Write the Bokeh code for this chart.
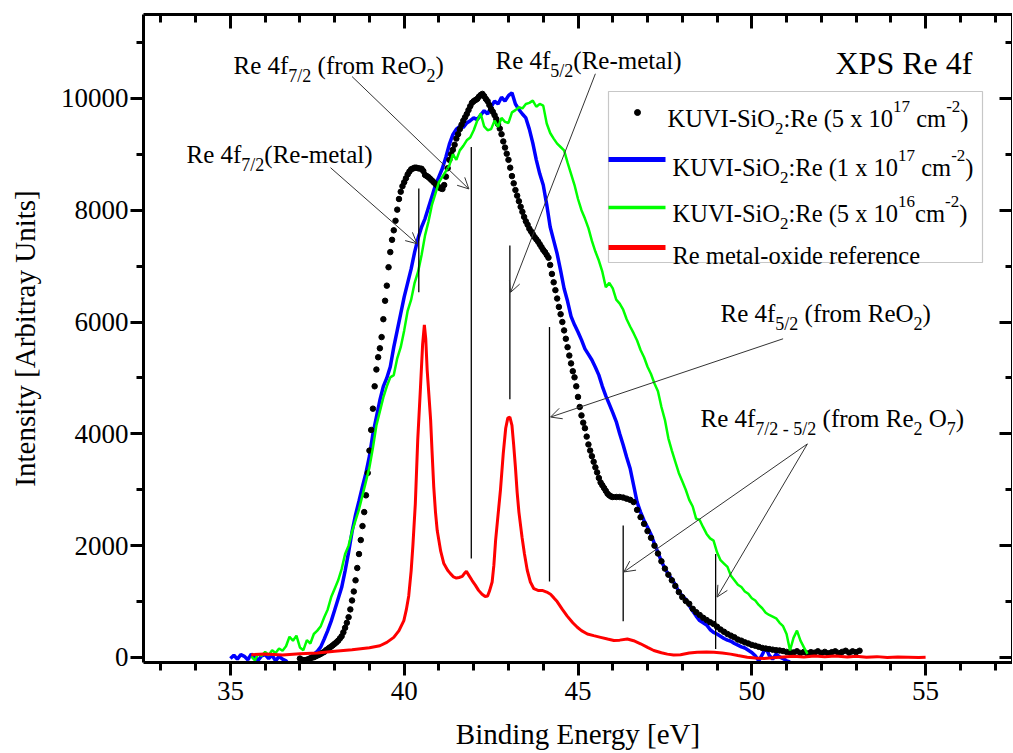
import numpy as np
from bokeh.plotting import figure
from bokeh.models import (LinearAxis, SingleIntervalTicker, Label, Arrow, OpenHead,
                          BoxAnnotation, CustomJSTickFormatter)
from bokeh.embed import file_html
from bokeh.resources import INLINE

# ---------------- data ----------------
# KUVI-SiO2:Re (5e17) - dots; 0.05 eV steps from 37.00 eV, then 0.1 eV steps from 46.1 eV
black_y_fine = [
    -20, -40, -50, -50, -40, -30, -15, 0, 5, 20,
    35, 50, 65, 85, 100, 130, 150, 175, 195, 220,
    245, 270, 300, 340, 380, 450, 530, 620, 720, 860,
    1020, 1180, 1380, 1600, 1850, 2100, 2350, 2600, 2900, 3300,
    3700, 4070, 4450, 4850, 5150, 5370, 5530, 5730, 6050, 6380,
    6650, 6980, 7250, 7470, 7640, 7810, 8010, 8200, 8330, 8430,
    8500, 8570, 8640, 8690, 8730, 8745, 8760, 8760, 8750, 8745,
    8740, 8700, 8630, 8610, 8590, 8560, 8530, 8500, 8470, 8440,
    8410, 8390, 8380, 8450, 8600, 8750, 8900, 9000, 9080, 9170,
    9280, 9360, 9450, 9530, 9600, 9660, 9720, 9790, 9860, 9920,
    9950, 9970, 9990, 10030, 10060, 10080, 10040, 9990, 9950, 9880,
    9810, 9760, 9700, 9630, 9540, 9460, 9360, 9230, 9120, 9010,
    8900, 8760, 8610, 8480, 8360, 8260, 8160, 8060, 7970, 7880,
    7800, 7740, 7670, 7620, 7570, 7520, 7480, 7440, 7390, 7340,
    7290, 7250, 7200, 7150, 7020, 6860, 6710, 6570, 6420, 6270,
    6140, 6000, 5850, 5700, 5550, 5400, 5260, 5120, 5010, 4850,
    4660, 4480, 4330, 4200, 4100, 3950, 3810, 3700, 3600, 3500,
    3400, 3310, 3210, 3130, 3080, 3030, 2980, 2930, 2900, 2880,
    2870]
black_y_tail = [
    2870, 2870, 2860, 2840, 2820, 2780, 2640, 2510, 2390,
    2260, 2140, 2000, 1860, 1720, 1590, 1480, 1380, 1280, 1170,
    1080, 1010, 960, 870, 810, 760, 710, 670, 630, 600,
    550, 500, 460, 420, 390, 360, 320, 300, 270, 250,
    225, 210, 190, 170, 160, 150, 140, 130, 125, 115,
    100, 95, 90, 110, 80, 100, 70, 95, 85, 110,
    80, 100, 75, 95, 110, 80, 100, 120, 85, 110,
    95, 120]

# KUVI-SiO2:Re (1e17) - 0.1 eV steps from 35.0 eV
blue_y = [
    -20, 40, -30, 50, 20, -40, 60, 10, -50, 30,
    50, -20, 40, -60, 20, -30, -60, -150, -180, -160,
    -120, -90, -40, 0, 60, 110, 190, 330, 480, 650,
    850, 1050, 1250, 1550, 1880, 2250, 2550, 2800, 3060, 3300,
    3600, 4000, 4300, 4600, 4850, 5000, 5200, 5550, 5850, 6150,
    6450, 6700, 6950, 7250, 7500, 7700, 7850, 8050, 8250, 8450,
    8600, 8750, 8950, 9180, 9350, 9450, 9500, 9480, 9560, 9600,
    9650, 9620, 9700, 9780, 9720, 9850, 9950, 9900, 10020, 9950,
    10050, 10100, 9900, 9800, 9720, 9650, 9450, 9200, 8900, 8650,
    8450, 8100, 7700, 7460, 7220, 6920, 6600, 6370, 6100, 5950,
    5820, 5680, 5520, 5420, 5320, 5190, 5050, 4850, 4680, 4530,
    4380, 4220, 4000, 3800, 3580, 3380, 3080, 2780, 2600, 2450,
    2330, 2200, 2030, 1880, 1720, 1590, 1490, 1400, 1300, 1180,
    1100, 1040, 930, 830, 740, 660, 620, 580, 500, 450,
    420, 380, 340, 310, 290, 250, 220, 190, 170, 130,
    90, 30, -60, 50, 180, 40, -30, 60, 10, -20, -60, -80]

# KUVI-SiO2:Re (5e16) - 0.1 eV steps from 35.6 eV
green_y = [
    20, -50, 60, 30, 100, 40, 130, 80, 160, 120,
    200, 370, 300, 390, 180, 130, 310, 250, 420, 480,
    560, 720, 860, 1080, 1230, 1380, 1580, 1850, 2000, 2250,
    2450, 2650, 2900, 3150, 3400, 3750, 4150, 4400, 4650, 4850,
    5010, 5050, 5350, 5550, 5850, 6200, 6400, 6700, 6900, 7200,
    7550, 7800, 8100, 8300, 8500, 8600, 8700, 8800, 9000, 8900,
    9070, 9150, 9250, 9300, 9430, 9600, 9730, 9500, 9430, 9450,
    9600, 9490, 9650, 9580, 9560, 9750, 9790, 9840, 9820, 9900,
    9920, 9960, 9850, 9900, 9870, 9550, 9380, 9280, 9190, 9130,
    9070, 8850, 8650, 8450, 8200, 8000, 7850, 7680, 7450, 7260,
    7100, 6900, 6620, 6700, 6600, 6400, 6330, 6220, 6050, 5920,
    5800, 5670, 5500, 5370, 5200, 5070, 4900, 4760, 4480, 4250,
    3920, 3700, 3500, 3300, 3150, 3000, 2820, 2700, 2480, 2460,
    2330, 2210, 2130, 2090, 1880, 1740, 1680, 1620, 1460, 1380,
    1300, 1260, 1180, 1140, 1060, 1020, 940, 880, 800, 760,
    730, 700, 620, 560, 420, 125, 350, 480, 300, 180, 65]

# Re metal-oxide reference (energy, counts)
red_pts = [
    (35.6, 50), (36.0, 60), (36.5, 45), (37.0, 65), (37.5, 80), (38.0, 110), (38.5, 140),
    (39.0, 175), (39.3, 210), (39.5, 270), (39.7, 360), (39.85, 480), (39.99, 660),
    (40.06, 850), (40.13, 1100), (40.2, 1550), (40.25, 2000), (40.32, 2750), (40.39, 3900),
    (40.47, 4850), (40.53, 5600), (40.58, 5950), (40.62, 5700), (40.66, 5150), (40.71, 4700),
    (40.76, 4250), (40.8, 3700), (40.85, 3050), (40.9, 2600), (40.95, 2270), (41.05, 1900),
    (41.14, 1680), (41.25, 1560), (41.33, 1500), (41.42, 1440), (41.5, 1420), (41.58, 1430),
    (41.67, 1450), (41.74, 1510), (41.79, 1540), (41.87, 1460), (41.95, 1380), (42.05, 1290),
    (42.14, 1200), (42.24, 1130), (42.33, 1090), (42.4, 1100), (42.46, 1200), (42.53, 1350),
    (42.58, 1650), (42.63, 2100), (42.7, 2550), (42.77, 3000), (42.85, 3650), (42.92, 4100),
    (42.98, 4280), (43.04, 4300), (43.1, 4150), (43.15, 3800), (43.2, 3400), (43.25, 2950),
    (43.3, 2600), (43.35, 2350), (43.39, 2150), (43.46, 1850), (43.54, 1560), (43.63, 1350),
    (43.73, 1230), (43.85, 1200), (43.97, 1200), (44.1, 1170), (44.21, 1130), (44.3, 1070),
    (44.4, 1000), (44.55, 860), (44.69, 740), (44.85, 620), (44.98, 540), (45.1, 480),
    (45.27, 420), (45.45, 390), (45.65, 360), (45.85, 330), (46.03, 305), (46.2, 310),
    (46.42, 330), (46.6, 300), (46.8, 245), (47.0, 180), (47.18, 125), (47.4, 85),
    (47.57, 60), (47.75, 45), (47.95, 50), (48.2, 80), (48.43, 95), (48.7, 100), (48.91, 95),
    (49.15, 80), (49.39, 60), (49.6, 35), (49.87, 5), (50.1, -10), (50.35, -20), (50.6, -5),
    (50.9, 10), (51.2, 20), (51.5, 10), (51.8, 25), (52.1, 15), (52.4, 25), (52.75, 10),
    (53.0, 20), (53.3, 5), (53.6, 15), (53.9, 0), (54.2, 10), (54.5, 5), (54.8, 0), (55.0, 5)]

# peak marker lines: energy, top, bottom
marker_x = [40.42, 41.93, 43.04, 44.18, 46.30, 48.96]
marker_top = [8390, 9130, 7370, 5910, 2360, 1850]
marker_bottom = [6530, 1770, 4620, 1360, 650, 150]

# annotation arrows: (x_start, y_start, x_end, y_end)
arrows = [
    (37.88, 8760, 40.37, 7400),
    (38.50, 10390, 41.86, 8380),
    (45.50, 10440, 43.06, 6530),
    (50.90, 5700, 44.21, 4300),
    (51.60, 3820, 46.32, 1530),
    (51.60, 3820, 49.00, 1080),
]

x_ticks_interval = 5
y_ticks_interval = 2000
x_title = "Binding Energy [eV]"
y_title = "Intensity [Arbitray Units]"

# ---------------- derived coordinates ----------------
black_x = list(np.round(37.0 + 0.05 * np.arange(len(black_y_fine)), 3)) + \
          list(np.round(46.1 + 0.1 * np.arange(len(black_y_tail)), 3))
black_y = black_y_fine + black_y_tail
blue_x = np.round(35.0 + 0.1 * np.arange(len(blue_y)), 3)
green_x = np.round(35.6 + 0.1 * np.arange(len(green_y)), 3)
red_x = [a for a, b in red_pts]
red_y = [b for a, b in red_pts]

# ---------------- layout ----------------
FONT = "Liberation Serif"
X0, X1 = 32.5, 57.5
Y0, Y1 = -90, 11500
W, H = 1012, 752
FL, FR, FT, FB = 143, 1012, 14, 662   # frame edges in page pixels


def DX(px):
    return X0 + (px - FL) * (X1 - X0) / (FR - FL)


def DY(py):
    return Y1 - (py - FT) * (Y1 - Y0) / (FB - FT)


p = figure(width=W, height=H, x_range=(X0, X1), y_range=(Y0, Y1),
           output_backend="svg", toolbar_location=None,
           min_border_left=FL, min_border_right=W - FR,
           min_border_top=FT, min_border_bottom=H - FB)
p.grid.visible = False
p.outline_line_color = None
p.background_fill_color = "white"
p.border_fill_color = "white"

xa = p.xaxis[0]
xa.ticker = SingleIntervalTicker(interval=x_ticks_interval, num_minor_ticks=5)
yaxis = p.yaxis[0]
yaxis.ticker = SingleIntervalTicker(interval=y_ticks_interval, num_minor_ticks=2)
for ax in (xa, yaxis):
    ax.axis_line_width = 3
    ax.major_tick_line_width = 3
    ax.minor_tick_line_width = 3
    ax.major_tick_in = 0
    ax.minor_tick_in = 0
    ax.major_tick_out = 13
    ax.minor_tick_out = 7
    ax.major_label_text_font = FONT
    ax.major_label_text_font_size = "27px"
    ax.major_label_text_color = "black"
    ax.axis_label_text_font = FONT
    ax.axis_label_text_font_size = "29px"
    ax.axis_label_text_font_style = "normal"
    ax.axis_label_text_color = "black"
xa.axis_label = x_title
xa.major_label_standoff = 6
xa.axis_label_standoff = 15
xa.minor_tick_out = 8
yaxis.axis_label = y_title
yaxis.major_label_standoff = 2
yaxis.axis_label_standoff = 17

blank = CustomJSTickFormatter(code="return ''")
top = LinearAxis(ticker=SingleIntervalTicker(interval=x_ticks_interval, num_minor_ticks=5),
                 formatter=blank, major_label_text_font_size="1px", major_label_standoff=0,
                 major_tick_in=14, major_tick_out=0, minor_tick_in=8, minor_tick_out=0,
                 axis_line_width=3, major_tick_line_width=3, minor_tick_line_width=3)
p.add_layout(top, "above")
right = LinearAxis(ticker=SingleIntervalTicker(interval=y_ticks_interval, num_minor_ticks=2),
                   formatter=blank, major_label_text_font_size="1px", major_label_standoff=0,
                   major_tick_in=13, major_tick_out=0, minor_tick_in=7, minor_tick_out=0,
                   axis_line_width=3, major_tick_line_width=3, minor_tick_line_width=3)
p.add_layout(right, "right")

# ---------------- curves ----------------
p.line(blue_x, blue_y, line_color="#0000ff", line_width=3.5)
p.scatter(black_x, black_y, size=5.5, fill_color="black", line_color="black")
p.line(green_x, green_y, line_color="#00ff00", line_width=2.5)
p.line(red_x, red_y, line_color="#ff0000", line_width=3)

# peak markers
p.segment(x0=marker_x, y0=marker_bottom, x1=marker_x, y1=marker_top,
          line_color="black", line_width=1.3)

for xs, ys, xe, ye in arrows:
    p.add_layout(Arrow(x_start=xs, y_start=ys, x_end=xe, y_end=ye,
                       line_color="#333333", line_width=1,
                       end=OpenHead(size=11, line_color="#333333", line_width=1)))

# ---------------- rich text ----------------
WID = {' ': 250, '(': 333, ')': 333, '-': 333, '/': 278, ':': 278, '.': 250,
       'A': 722, 'K': 722, 'U': 722, 'V': 722, 'I': 333, 'S': 556, 'O': 722, 'R': 667,
       'E': 611, 'X': 722, 'P': 556,
       'a': 444, 'b': 500, 'c': 444, 'd': 500, 'e': 444, 'f': 333, 'g': 500, 'h': 500,
       'i': 278, 'l': 278, 'm': 778, 'n': 500, 'o': 500, 'r': 333, 's': 389, 't': 278,
       'x': 500, 'y': 500}


def tw(s, size):
    return sum(WID.get(c, 500) for c in s) * size / 1000.0


def rich(px, py, pieces, size=25, small=18):
    cur = px
    for text, kind in pieces:
        if kind == "n":
            fs, off = size, 0
        elif kind == "sub":
            fs, off = small, 10
        else:
            fs, off = small, -12
        lead = len(text) - len(text.lstrip(" "))
        cur += lead * 250 * fs / 1000.0
        t = text.strip(" ")
        p.add_layout(Label(x=DX(cur), y=DY(py + off), text=t, text_font=FONT,
                           text_font_size=f"{fs}px", text_baseline="alphabetic",
                           text_align="left", text_color="black"))
        cur += tw(t, fs)
        trail = len(text) - len(text.rstrip(" "))
        cur += trail * 250 * fs / 1000.0


rich(233, 65, [("Re 4f", "n"), ("7/2", "sub"), (" (from ReO", "n"), ("2", "sub"), (")", "n")])
rich(495, 60, [("Re 4f", "n"), ("5/2", "sub"), ("(Re-metal)", "n")])
rich(186, 154, [("Re 4f", "n"), ("7/2", "sub"), ("(Re-metal)", "n")])
rich(720, 313, [("Re 4f", "n"), ("5/2", "sub"), (" (from ReO", "n"), ("2", "sub"), (")", "n")])
rich(700, 418, [("Re 4f", "n"), ("7/2 - 5/2", "sub"), (" (from Re", "n"), ("2", "sub"),
                (" O", "n"), ("7", "sub"), (")", "n")])
rich(835, 62, [("XPS Re 4f", "n")], size=32)

# ---------------- legend ----------------
p.add_layout(BoxAnnotation(left=DX(608), right=DX(982), top=DY(91), bottom=DY(262),
                           fill_alpha=0, line_color="#444444", line_width=1.2))
p.scatter([DX(637)], [DY(112)], size=6, fill_color="black", line_color="black")
for py, col, lw in ((159, "#0000ff", 5), (207, "#00ff00", 3.5), (247, "#ff0000", 5)):
    p.line([DX(608), DX(665)], [DY(py), DY(py)], line_color=col, line_width=lw)

LS, LSS = 24.5, 17
rich(667, 118, [("KUVI-SiO", "n"), ("2", "sub"), (":Re (5 x 10", "n"), ("17", "sup"),
                (" cm", "n"), ("-2", "sup"), (")", "n")], LS, LSS)
rich(672, 167, [("KUVI-SiO", "n"), ("2", "sub"), (":Re (1 x 10", "n"), ("17", "sup"),
                (" cm", "n"), ("-2", "sup"), (")", "n")], LS, LSS)
rich(672, 213, [("KUVI-SiO", "n"), ("2", "sub"), (":Re (5 x 10", "n"), ("16", "sup"),
                ("cm", "n"), ("-2", "sup"), (")", "n")], LS, LSS)
rich(672, 255, [("Re metal-oxide reference", "n")], LS, LSS)

open("out.html", "w").write(file_html(p, INLINE))
